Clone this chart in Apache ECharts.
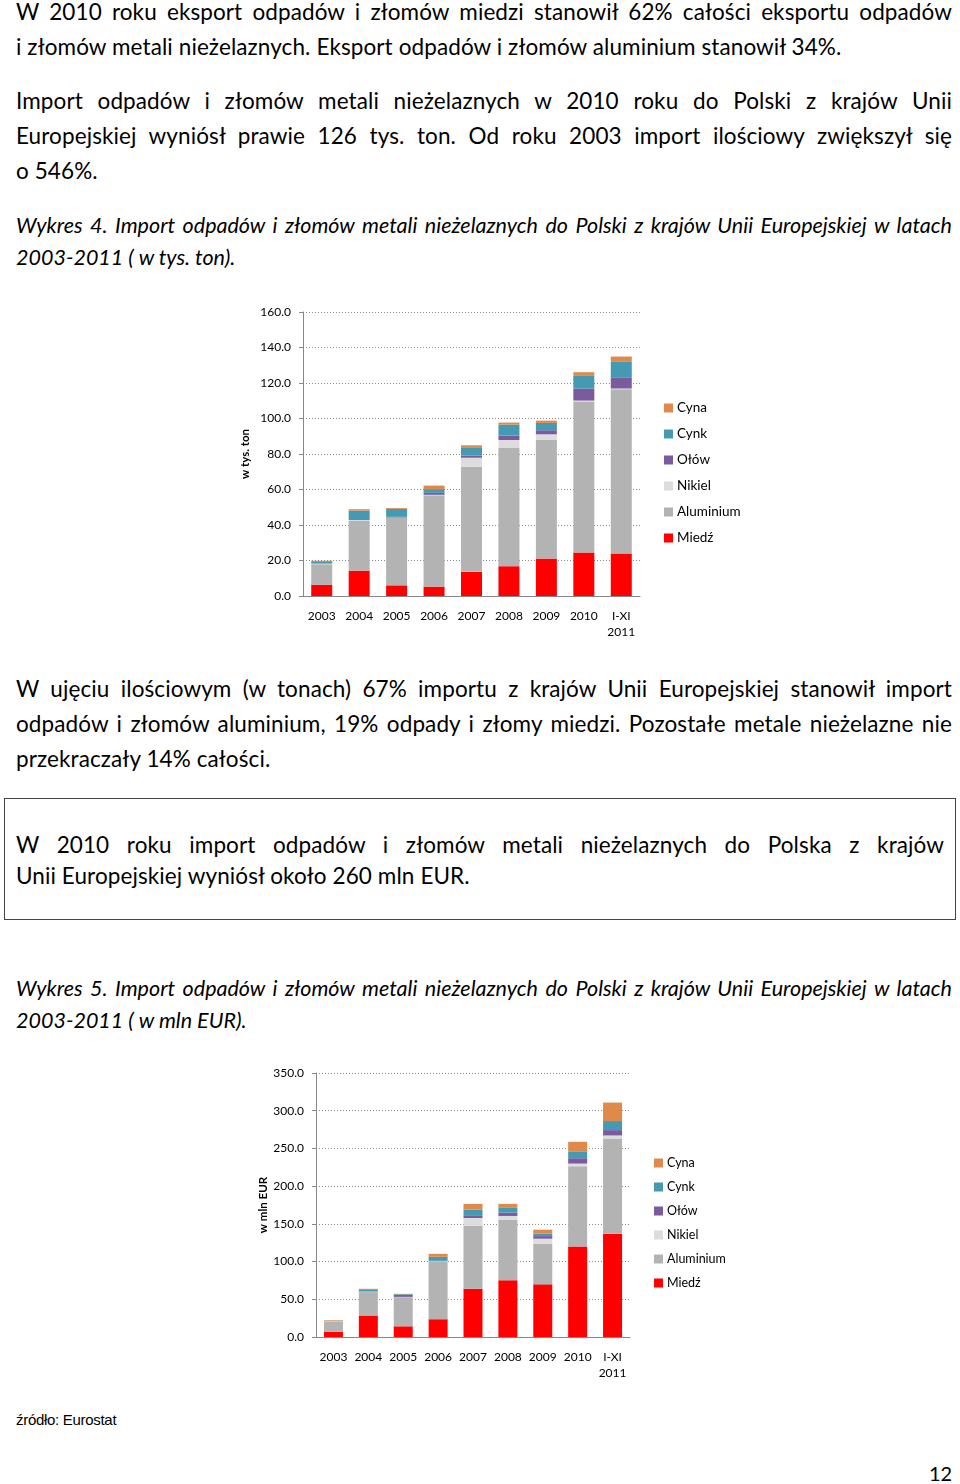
<!DOCTYPE html>
<html><head><meta charset="utf-8">
<script src="https://cdn.jsdelivr.net/npm/echarts@6/dist/echarts.min.js"></script>
<style>
html,body{margin:0;padding:0;background:#fff;}
#page{position:relative;width:960px;height:1484px;overflow:hidden;font-family:Lato,"Open Sans",sans-serif;color:#000;}
.ln{position:absolute;left:16px;width:936px;height:30px;line-height:30px;font-size:22.5px;letter-spacing:0.1px;white-space:nowrap;}
.j{text-align:justify;text-align-last:justify;}
.it{font-style:italic;font-size:21.5px;letter-spacing:0;}
#box{position:absolute;left:4px;top:798px;width:950px;height:120px;border:1.5px solid #444;}
#chart{position:absolute;left:0;top:0;width:960px;height:1484px;}
</style></head>
<body><div id="page">
<div class="ln j" style="top:-3px">W 2010 roku eksport odpadów i złomów miedzi stanowił 62% całości eksportu odpadów</div>
<div class="ln" style="top:32px">i złomów metali nieżelaznych. Eksport odpadów i złomów aluminium stanowił 34%.</div>
<div class="ln j" style="top:86px">Import odpadów i złomów metali nieżelaznych w 2010 roku do Polski z krajów Unii</div>
<div class="ln j" style="top:121px">Europejskiej wyniósł prawie 126 tys. ton. Od roku 2003 import ilościowy zwiększył się</div>
<div class="ln" style="top:156px">o 546%.</div>
<div class="ln j it" style="top:210px">Wykres 4. Import odpadów i złomów metali nieżelaznych do Polski z krajów Unii Europejskiej w latach</div>
<div class="ln it" style="top:242px">2003-2011 ( w tys. ton).</div>

<div class="ln j" style="top:674px">W ujęciu ilościowym (w tonach) 67% importu z krajów Unii Europejskiej stanowił import</div>
<div class="ln j" style="top:709px">odpadów i złomów aluminium, 19% odpady i złomy miedzi. Pozostałe metale nieżelazne nie</div>
<div class="ln" style="top:744px">przekraczały 14% całości.</div>

<div id="box"></div>
<div class="ln j" style="top:830px;width:928px">W 2010 roku import odpadów i złomów metali nieżelaznych do Polska z krajów</div>
<div class="ln" style="top:861px">Unii Europejskiej wyniósł około 260 mln EUR.</div>

<div class="ln j it" style="top:973px">Wykres 5. Import odpadów i złomów metali nieżelaznych do Polski z krajów Unii Europejskiej w latach</div>
<div class="ln it" style="top:1005px">2003-2011 ( w mln EUR).</div>

<div style="position:absolute;left:16px;top:1410px;font-family:'Liberation Sans',Arial,sans-serif;font-size:15px;line-height:20px;letter-spacing:-0.3px;">źródło: Eurostat</div>
<div style="position:absolute;left:929px;top:1461px;font-family:Lato,sans-serif;font-size:20px;line-height:24px;">12</div>

<div id="chart"></div>
</div>
<script>
var categories = ['2003','2004','2005','2006','2007','2008','2009','2010','I-XI\n2011'];
var seriesNames = ['Miedź','Aluminium','Nikiel','Ołów','Cynk','Cyna'];
var legendOrder = ['Cyna','Cynk','Ołów','Nikiel','Aluminium','Miedź'];
var seriesColors = ['#FF0000','#B3B3B3','#DDDDDD','#7A5C9E','#4499B3','#DF8A4B'];

// Wykres 4 – w tys. ton
var miedzT     = [6.4, 14.3, 6.0, 5.3, 13.6, 16.8, 21.1, 24.5, 23.9];
var aluminiumT = [11.5, 28.2, 38.0, 51.4, 59.2, 66.8, 66.8, 85.1, 92.6];
var nikielT    = [0.3, 0.3, 0.2, 0.3, 5.1, 4.3, 3.2, 0.5, 0.4];
var olowT      = [0.2, 0.5, 0.4, 1.1, 1.2, 2.5, 2.3, 6.8, 6.0];
var cynkT      = [1.2, 4.8, 4.4, 2.1, 4.7, 6.2, 4.1, 7.1, 9.0];
var cynaT      = [0.3, 0.8, 0.5, 2.0, 1.1, 1.1, 1.3, 2.1, 3.0];

// Wykres 5 – w mln EUR
var miedzE     = [7.1, 28.5, 14.2, 23.6, 64.0, 75.1, 69.8, 120.1, 137.0];
var aluminiumE = [13.4, 31.1, 38.7, 76.0, 83.6, 80.1, 53.8, 106.2, 126.2];
var nikielE    = [0.5, 0.5, 0.3, 0.9, 10.2, 5.3, 6.7, 3.6, 4.0];
var olowE      = [0.2, 0.3, 2.5, 0.5, 3.6, 4.5, 3.5, 7.1, 7.1];
var cynkE      = [0.3, 2.0, 1.0, 5.3, 7.6, 6.2, 3.1, 8.4, 12.0];
var cynaE      = [0.8, 1.5, 0.5, 4.0, 7.5, 5.3, 5.4, 13.4, 24.5];

var yTicks1 = {min:0, max:160, interval:20, name:'w tys. ton'};
var yTicks2 = {min:0, max:350, interval:50, name:'w mln EUR'};

var dataT = [miedzT, aluminiumT, nikielT, olowT, cynkT, cynaT];
var dataE = [miedzE, aluminiumE, nikielE, olowE, cynkE, cynaE];

var FONT = 'Lato';
function xAxis(gi){
  return {type:'category', gridIndex:gi, data:categories,
    axisLine:{lineStyle:{color:'#878787',width:1}},
    axisTick:{show:false},
    axisLabel:{color:'#000', fontFamily:FONT, fontSize:12, margin:12, lineHeight:16, interval:0}};
}
function yAxis(gi, t, gap){
  return {type:'value', gridIndex:gi, min:t.min, max:t.max, interval:t.interval,
    name:t.name, nameLocation:'middle', nameGap:gap, nameRotate:90,
    nameTextStyle:{color:'#000', fontFamily:FONT, fontSize:11.5, fontWeight:'bold'},
    axisLine:{show:true, lineStyle:{color:'#878787',width:1}},
    axisTick:{show:true, length:4, lineStyle:{color:'#878787'}},
    axisLabel:{color:'#000', fontFamily:FONT, fontSize:12, margin:12, formatter:function(v){return v.toFixed(1);}},
    splitLine:{show:true, lineStyle:{color:'#8c8c8c', type:[1,2], width:1}}};
}
var series = [];
seriesNames.forEach(function(n,i){
  series.push({name:n, type:'bar', stack:'t', xAxisIndex:0, yAxisIndex:0, data:dataT[i],
    barWidth:21, itemStyle:{color:seriesColors[i]}});
});
seriesNames.forEach(function(n,i){
  series.push({name:n, type:'bar', stack:'e', xAxisIndex:1, yAxisIndex:1, data:dataE[i],
    barWidth:19, itemStyle:{color:seriesColors[i]}});
});
function legend(left, top, gap, fs){
  return {orient:'vertical', left:left, top:top, padding:0, itemWidth:9, itemHeight:9, itemGap:gap,
    icon:'rect', selectedMode:false, data:legendOrder,
    textStyle:{color:'#000', fontFamily:FONT, fontSize:fs, lineHeight:14, padding:[0,0,0,-1]}};
}
var chart = echarts.init(document.getElementById('chart'), null, {renderer:'canvas'});
chart.setOption({
  animation:false,
  backgroundColor:'transparent',
  grid:[{left:303, top:312, width:337, height:284},
        {left:316, top:1073, width:314, height:264}],
  xAxis:[xAxis(0), xAxis(1)],
  yAxis:[yAxis(0, yTicks1, 52), yAxis(1, yTicks2, 47)],
  legend:[legend(664, 401, 12, 13.5), legend(654, 1156, 10, 12.5)],
  series:series
});
</script>
</body></html>
